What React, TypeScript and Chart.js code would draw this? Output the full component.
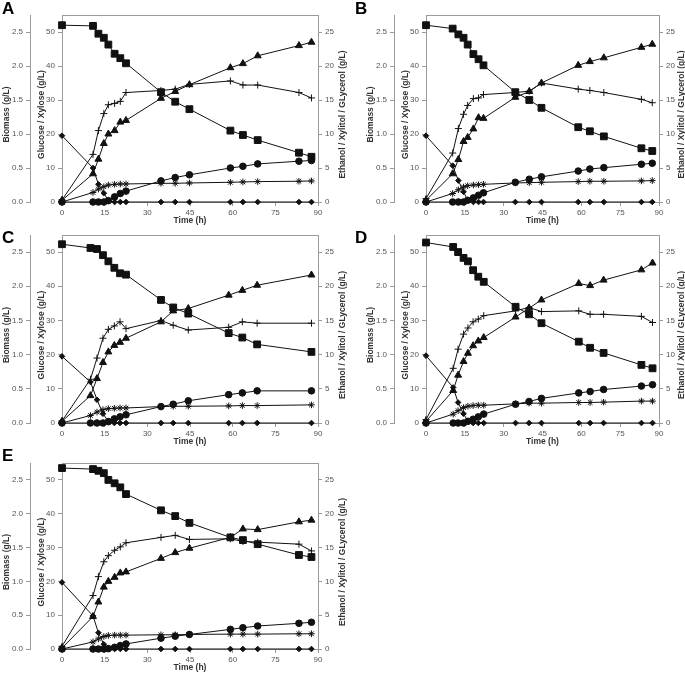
import React, { useEffect, useRef } from "react";
import { Chart, registerables } from "chart.js";
Chart.register(...registerables);

// ---------- data (g/L) ----------
const timeA = [0, 10.9, 12.8, 14.7, 16.3, 18.5, 20.5, 22.5, 34.8, 39.8, 44.8, 59.2, 63.6, 68.8, 83.3, 87.7];
const xyloseA = [52, 51.8, 49.5, 48.3, 46.3, 43.6, 42.3, 40.8, 32.3, 29.5, 27.3, 21, 19.7, 18.2, 14.5, 13.3];
const glucoseA = [19.5, 10, 5.2, 2.6, 0.4, 0, 0, 0, 0, 0, 0, 0, 0, 0, 0, 0];
const ethanolA = [0.25, 4.15, 6.3, 8.6, 10, 10.5, 11.75, 12, 15.25, 16.25, 17.25, 19.75, 20.35, 21.5, 23, 23.5];
const biomassA = [0.03, 0.7, 1.05, 1.3, 1.43, 1.45, 1.48, 1.61, 1.64, 1.66, 1.73, 1.78, 1.72, 1.72, 1.61, 1.53];
const xylitolA = [0, 0, 0, 0, 0.2, 0.75, 1.25, 1.6, 3.1, 3.6, 4, 5, 5.25, 5.6, 6, 6.1];
const glycerolA = [0, 1.4, 1.9, 2.25, 2.5, 2.6, 2.65, 2.65, 2.75, 2.75, 2.8, 2.9, 2.95, 3, 3.05, 3.1];

const timeB = [0, 10.3, 12.5, 14.5, 16.1, 18.3, 20.3, 22.2, 34.5, 39.9, 44.6, 58.8, 63.3, 68.7, 83.2, 87.4];
const xyloseB = [52, 51, 49.3, 48.3, 46.3, 43.5, 42, 40.2, 32.3, 30, 27.7, 22, 20.8, 19.3, 15.8, 15];
const glucoseB = [19.5, 10.7, 6.3, 3, 0.5, 0, 0, 0, 0, 0, 0, 0, 0, 0, 0, 0];
const ethanolB = [0.25, 4.15, 6.25, 8.9, 9.5, 10.75, 12.4, 12.3, 15.4, 16.25, 17.5, 20.1, 20.65, 21.2, 22.75, 23.2];
const biomassB = [0.05, 0.72, 1.08, 1.29, 1.42, 1.52, 1.53, 1.58, 1.61, 1.63, 1.75, 1.66, 1.64, 1.61, 1.51, 1.46];
const xylitolB = [0, 0, 0, 0, 0.25, 0.6, 1, 1.35, 2.9, 3.35, 3.7, 4.55, 4.85, 5.05, 5.55, 5.7];
const glycerolB = [0, 1.25, 1.8, 2.2, 2.4, 2.5, 2.55, 2.6, 2.8, 2.85, 2.9, 3, 3.05, 3.05, 3.1, 3.15];

const timeC = [0, 10, 12.3, 14.4, 16.3, 18.4, 20.4, 22.5, 34.8, 39.1, 44.4, 58.6, 63.4, 68.6, 87.7];
const xyloseC = [52.3, 51.2, 50.9, 49.1, 47.3, 45.4, 43.8, 43.4, 36, 33.8, 32, 26.3, 25, 23, 20.8];
const glucoseC = [19.5, 12, 6.8, 2.7, 0.5, 0, 0, 0, 0, 0, 0, 0, 0, 0, 0];
const ethanolC = [0.25, 4, 6.5, 8.85, 10.4, 11.35, 11.8, 12.4, 14.8, 16.4, 16.75, 18.7, 19.4, 20.15, 21.65];
const biomassC = [0.03, 0.64, 0.95, 1.24, 1.37, 1.42, 1.48, 1.38, 1.5, 1.43, 1.36, 1.4, 1.48, 1.46, 1.46];
const xylitolC = [0, 0, 0, 0, 0.2, 0.6, 0.9, 1.2, 2.4, 2.75, 3.25, 4.15, 4.4, 4.7, 4.7];
const glycerolC = [0, 1.1, 1.6, 1.95, 2.1, 2.15, 2.2, 2.2, 2.4, 2.45, 2.45, 2.5, 2.55, 2.55, 2.65];

const timeD = [0, 10.5, 12.4, 14.5, 16.2, 18.2, 20.2, 22.3, 34.6, 39.8, 44.6, 59, 63.4, 68.6, 83.2, 87.5];
const xyloseD = [52.8, 51.5, 50, 48.3, 47.3, 44.7, 42.8, 41.3, 34, 31.8, 29.2, 23.8, 22, 20.5, 17, 16];
const glucoseD = [19.7, 10.4, 6, 2.7, 0.5, 0, 0, 0, 0, 0, 0, 0, 0, 0, 0, 0];
const ethanolD = [0.25, 4.75, 7, 9, 10.2, 11.3, 12, 12.5, 15.5, 16.8, 18, 20.4, 20.1, 20.9, 22.4, 23.4];
const biomassD = [0.05, 0.8, 1.08, 1.3, 1.39, 1.48, 1.52, 1.57, 1.64, 1.69, 1.63, 1.64, 1.59, 1.59, 1.56, 1.47];
const xylitolD = [0, 0, 0, 0, 0.25, 0.55, 0.9, 1.3, 2.75, 3.15, 3.6, 4.4, 4.6, 4.9, 5.4, 5.6];
const glycerolD = [0, 1.3, 1.8, 2.25, 2.45, 2.55, 2.6, 2.6, 2.8, 2.9, 2.9, 3, 3, 3.05, 3.2, 3.2];

const timeE = [0, 10.9, 12.8, 14.7, 16.3, 18.5, 20.5, 22.5, 34.8, 39.8, 44.8, 59.2, 63.6, 68.8, 83.3, 87.7];
const xyloseE = [53.5, 53.2, 52.7, 52, 50, 49, 47.8, 45.8, 41, 39.3, 37.3, 33, 32.2, 31, 27.8, 27.2];
const glucoseE = [19.7, 9.8, 4.8, 1.4, 0.2, 0, 0, 0, 0, 0, 0, 0, 0, 0, 0, 0];
const ethanolE = [0.15, 4.8, 6.95, 9.15, 10, 10.6, 11.25, 11.4, 13.4, 14.25, 14.9, 16.5, 17.75, 17.65, 18.8, 19.05];
const biomassE = [0.04, 0.79, 1.07, 1.29, 1.38, 1.46, 1.51, 1.57, 1.65, 1.68, 1.62, 1.63, 1.59, 1.58, 1.55, 1.45];
const xylitolE = [0, 0, 0, 0, 0.05, 0.25, 0.5, 0.75, 1.6, 1.9, 2.15, 2.9, 3.15, 3.4, 3.8, 3.95];
const glycerolE = [0, 1.05, 1.5, 1.85, 2, 2.05, 2.05, 2.05, 2.1, 2.1, 2.15, 2.2, 2.2, 2.2, 2.25, 2.25];

const timeTicks = [0, 15, 30, 45, 60, 75, 90];

const FONT = "'Liberation Sans', Arial, sans-serif";
const AXIS = "#9a9a9a";
const TICKTXT = "#555";
const TITLETXT = "#333";
const INK = "#111";

Chart.defaults.font.family = FONT;

const decorPlugin = {
  id: "decor",
  afterDraw(chart: any, _args: any, o: any) {
    const { ctx, chartArea: ca } = chart;
    ctx.save();
    ctx.strokeStyle = AXIS;
    ctx.lineWidth = 1;
    ctx.beginPath();
    ctx.moveTo(ca.left, Math.round(ca.top) + 0.5);
    ctx.lineTo(ca.right, Math.round(ca.top) + 0.5);
    ctx.stroke();

    ctx.fillStyle = TITLETXT;
    ctx.font = `bold 8.5px ${FONT}`;
    ctx.textAlign = "center";
    ctx.textBaseline = "middle";
    const midY = (ca.top + ca.bottom) / 2 + 6;
    const rot = (text: string, x: number) => {
      ctx.save();
      ctx.translate(x, midY);
      ctx.rotate(-Math.PI / 2);
      ctx.fillText(text, 0, 0);
      ctx.restore();
    };
    rot("Biomass (g/L)", ca.left - 55);
    rot("Glucose / Xylose (g/L)", ca.left - 20);
    rot("Ethanol / Xylitol / GLycerol (g/L)", ca.right + o.rightOff);
    ctx.fillText("Time (h)", (ca.left + ca.right) / 2, ca.bottom + 19);

    ctx.fillStyle = "#000";
    ctx.font = `bold 17px ${FONT}`;
    ctx.textAlign = "left";
    ctx.fillText(o.letter, o.letterX, o.letterY);
    ctx.restore();
  },
};

type PanelProps = {
  letter: string;
  time: number[];
  xylose: number[];
  glucose: number[];
  ethanol: number[];
  biomass: number[];
  xylitol: number[];
  glycerol: number[];
  left: number;
  top: number;
  width: number;
  height: number;
  padLeft: number;
  padTop: number;
  xHeight: number;
  rightW: number;
  rightOff: number;
  letterX: number;
  letterY: number;
};

function Panel(p: PanelProps) {
  const ref = useRef<HTMLCanvasElement | null>(null);
  useEffect(() => {
    if (!ref.current) return;
    const pts = (arr: number[]) => p.time.map((t, i) => ({ x: t, y: arr[i] }));
    const base = {
      borderColor: INK,
      backgroundColor: INK,
      pointBorderColor: INK,
      pointBackgroundColor: INK,
      borderWidth: 1,
      pointBorderWidth: 1,
      tension: 0,
      clip: false as any,
    };
    const axisCommon = (pos: string) => ({
      position: pos,
      border: { display: true, color: AXIS, width: 1 },
      grid: { drawOnChartArea: false, drawTicks: true, tickLength: 4, color: AXIS },
    });
    const chart = new Chart(ref.current, {
      type: "line",
      data: {
        datasets: [
          { ...base, label: "Xylose", data: pts(p.xylose), yAxisID: "yGlu", pointStyle: "rect", pointRadius: 4.8 },
          { ...base, label: "Glucose", data: pts(p.glucose), yAxisID: "yGlu", pointStyle: "rectRot", pointRadius: 2.8 },
          { ...base, label: "Ethanol", data: pts(p.ethanol), yAxisID: "yEth", pointStyle: "triangle", pointRadius: 4 },
          { ...base, label: "Biomass", data: pts(p.biomass), yAxisID: "yBio", pointStyle: "cross", pointRadius: 3.5 },
          { ...base, label: "Xylitol", data: pts(p.xylitol), yAxisID: "yEth", pointStyle: "circle", pointRadius: 3.3 },
          { ...base, label: "Glycerol", data: pts(p.glycerol), yAxisID: "yEth", pointStyle: "star", pointRadius: 3.3 },
        ],
      },
      options: {
        animation: false,
        responsive: false,
        events: [],
        layout: { padding: { left: p.padLeft, top: p.padTop, right: 0, bottom: 0 } },
        plugins: {
          legend: { display: false },
          tooltip: { enabled: false },
          decor: { letter: p.letter, rightOff: p.rightOff, letterX: p.letterX, letterY: p.letterY },
        } as any,
        scales: {
          x: {
            type: "linear",
            ...axisCommon("bottom"),
            min: 0,
            max: 90,
            afterBuildTicks: (s: any) => {
              s.ticks = timeTicks.map((v) => ({ value: v }));
            },
            ticks: { color: TICKTXT, font: { size: 8 }, padding: 2, maxRotation: 0, autoSkip: false },
            afterFit: (s: any) => {
              s.height = p.xHeight;
            },
          } as any,
          yBio: {
            type: "linear",
            ...axisCommon("left"),
            weight: 2,
            min: 0,
            max: 2.75,
            ticks: {
              stepSize: 0.5,
              includeBounds: false,
              color: TICKTXT,
              font: { size: 8 },
              padding: 3,
              callback: (v: any) => Number(v).toFixed(1),
            },
            afterFit: (s: any) => {
              s.width = 30;
            },
          } as any,
          yGlu: {
            type: "linear",
            ...axisCommon("left"),
            weight: 1,
            min: 0,
            max: 55,
            ticks: { stepSize: 10, includeBounds: false, color: TICKTXT, font: { size: 8 }, padding: 3 },
            afterFit: (s: any) => {
              s.width = 32;
            },
          } as any,
          yEth: {
            type: "linear",
            ...axisCommon("right"),
            min: 0,
            max: 27.5,
            ticks: { stepSize: 5, includeBounds: false, color: TICKTXT, font: { size: 8 }, padding: 3 },
            afterFit: (s: any) => {
              s.width = p.rightW;
            },
          } as any,
        },
      },
      plugins: [decorPlugin],
    });
    return () => chart.destroy();
  }, []);
  return (
    <canvas
      ref={ref}
      width={p.width}
      height={p.height}
      style={{ position: "absolute", left: p.left, top: p.top, width: p.width, height: p.height }}
    />
  );
}

export default function App() {
  return (
    <div style={{ position: "absolute", left: 0, top: 0, width: 685, height: 674, background: "#fff", overflow: "hidden" }}>
      <Panel letter="A" time={timeA} xylose={xyloseA} glucose={glucoseA} ethanol={ethanolA} biomass={biomassA} xylitol={xylitolA} glycerol={glycerolA}
        left={0} top={0} width={350} height={226} padLeft={0} padTop={15} xHeight={24} rightW={32} rightOff={25} letterX={2} letterY={9} />
      <Panel letter="B" time={timeB} xylose={xyloseB} glucose={glucoseB} ethanol={ethanolB} biomass={biomassB} xylitol={xylitolB} glycerol={glycerolB}
        left={350} top={0} width={335} height={226} padLeft={14} padTop={15} xHeight={24} rightW={26} rightOff={23} letterX={5} letterY={9} />
      <Panel letter="C" time={timeC} xylose={xyloseC} glucose={glucoseC} ethanol={ethanolC} biomass={biomassC} xylitol={xylitolC} glycerol={glycerolC}
        left={0} top={220} width={350} height={226} padLeft={0} padTop={15} xHeight={23} rightW={32} rightOff={25} letterX={2} letterY={18} />
      <Panel letter="D" time={timeD} xylose={xyloseD} glucose={glucoseD} ethanol={ethanolD} biomass={biomassD} xylitol={xylitolD} glycerol={glycerolD}
        left={350} top={220} width={335} height={226} padLeft={14} padTop={15} xHeight={23} rightW={26} rightOff={23} letterX={5} letterY={18} />
      <Panel letter="E" time={timeE} xylose={xyloseE} glucose={glucoseE} ethanol={ethanolE} biomass={biomassE} xylitol={xylitolE} glycerol={glycerolE}
        left={0} top={447} width={350} height={227} padLeft={0} padTop={16} xHeight={25} rightW={32} rightOff={25} letterX={2} letterY={9} />
    </div>
  );
}
